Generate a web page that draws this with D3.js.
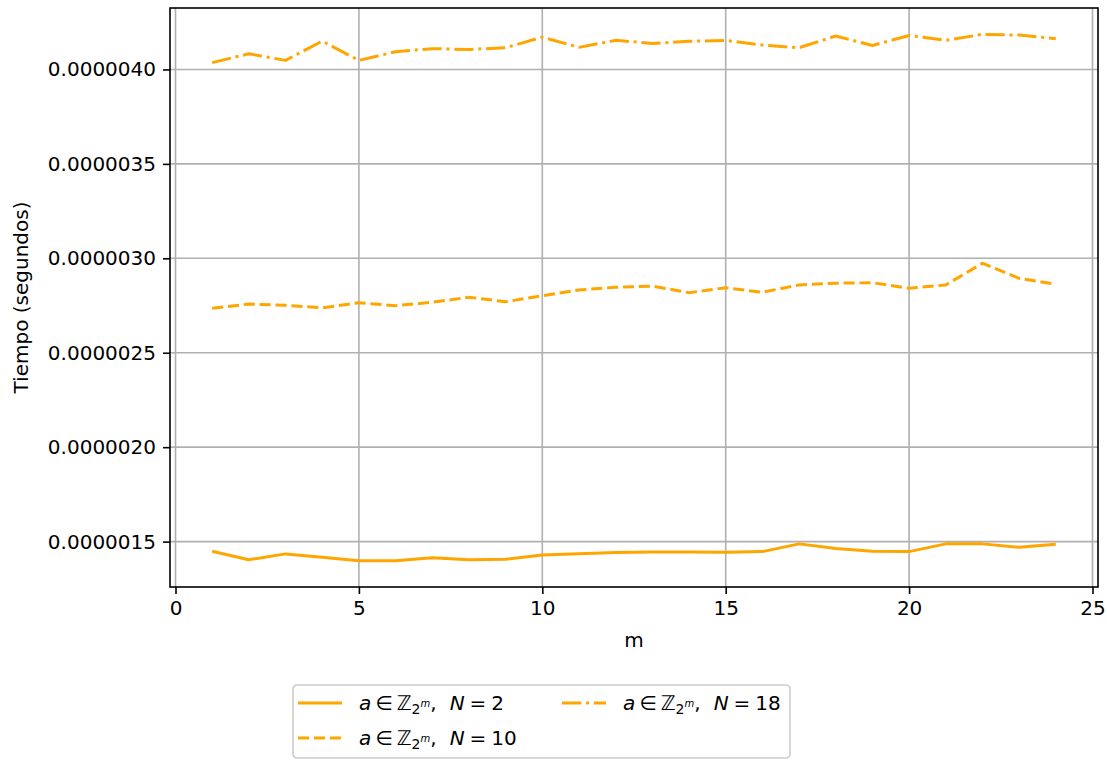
<!DOCTYPE html>
<html>
<head>
<meta charset="utf-8">
<script src="https://cdn.jsdelivr.net/npm/d3@7"></script>
<style>
  body { margin: 0; background: #fff; }
  svg { display: block; }
  text { font-family: "DejaVu Sans", sans-serif; fill: #000; }
</style>
</head>
<body>
<div id="chart"></div>
<script>
// Values (seconds).
var mValues = [1, 2, 3, 4, 5, 6, 7, 8, 9, 10, 11, 12, 13, 14, 15, 16, 17, 18, 19, 20, 21, 22, 23, 24];
var timesN2 = [1.449, 1.404, 1.435, 1.417, 1.399, 1.399, 1.415, 1.404, 1.406, 1.429, 1.436, 1.442,
               1.445, 1.445, 1.443, 1.447, 1.488, 1.463, 1.449, 1.447, 1.488, 1.488, 1.470, 1.486];
var timesN10 = [2.735, 2.758, 2.751, 2.738, 2.765, 2.749, 2.767, 2.794, 2.770, 2.802, 2.832, 2.847,
                2.853, 2.818, 2.844, 2.820, 2.859, 2.868, 2.871, 2.841, 2.859, 2.974, 2.894, 2.863];
var timesN18 = [4.036, 4.083, 4.048, 4.150, 4.048, 4.094, 4.110, 4.106, 4.115, 4.171, 4.117, 4.154,
                4.138, 4.149, 4.154, 4.129, 4.115, 4.177, 4.127, 4.180, 4.154, 4.186, 4.182, 4.163];
var nLabels = ["2", "10", "18"];
var xTicks = [0, 5, 10, 15, 20, 25];
var yTicks = [1.5e-6, 2.0e-6, 2.5e-6, 3.0e-6, 3.5e-6, 4.0e-6];

// Figure dimensions.
var W = 1107, H = 760;
var plot = {left: 170, top: 8, width: 928, height: 579};
var orange = "#ffa500";
var dashes = {solid: null, dashed: "11.1,4.8", dashdot: "19.2,4.8,3,4.8"};
var fontSize = 20;

var series = [
  {name: nLabels[0], values: timesN2, dash: dashes.solid},
  {name: nLabels[1], values: timesN10, dash: dashes.dashed},
  {name: nLabels[2], values: timesN18, dash: dashes.dashdot}
];

var svg = d3.select("#chart").append("svg")
    .attr("width", W)
    .attr("height", H);

// Domains padded like matplotlib's 5% margins.
var xMin = d3.min(mValues), xMax = d3.max(mValues);
var xPad = (xMax - xMin) * 0.05;
var allY = timesN2.concat(timesN10, timesN18).map(function(v) { return v * 1e-6; });
var yMin = d3.min(allY), yMax = d3.max(allY);
var yPad = (yMax - yMin) * 0.05;

var x = d3.scaleLinear()
    .domain([xMin - xPad, xMax + xPad])
    .range([plot.left, plot.left + plot.width]);
var y = d3.scaleLinear()
    .domain([yMin - yPad, yMax + yPad])
    .range([plot.top + plot.height, plot.top]);

// Grid lines.
var grid = svg.append("g").attr("class", "grid");
grid.selectAll("line.vx")
    .data(xTicks)
    .enter().append("line")
    .attr("x1", function(d) { return x(d); })
    .attr("x2", function(d) { return x(d); })
    .attr("y1", plot.top)
    .attr("y2", plot.top + plot.height)
    .attr("stroke", "#b0b0b0")
    .attr("stroke-width", 1.6);
grid.selectAll("line.hy")
    .data(yTicks)
    .enter().append("line")
    .attr("x1", plot.left)
    .attr("x2", plot.left + plot.width)
    .attr("y1", function(d) { return y(d); })
    .attr("y2", function(d) { return y(d); })
    .attr("stroke", "#b0b0b0")
    .attr("stroke-width", 1.6);

// Data lines.
var line = d3.line()
    .x(function(d, i) { return x(mValues[i]); })
    .y(function(d) { return y(d * 1e-6); });

svg.append("g").selectAll("path")
    .data(series)
    .enter().append("path")
    .attr("d", function(d) { return line(d.values); })
    .attr("fill", "none")
    .attr("stroke", orange)
    .attr("stroke-width", 3)
    .attr("stroke-linejoin", "round")
    .attr("stroke-dasharray", function(d) { return d.dash; });

// Axes.
var xAxis = d3.axisBottom(x)
    .tickValues(xTicks)
    .tickSize(7)
    .tickPadding(7)
    .tickFormat(d3.format("d"));
var yAxis = d3.axisLeft(y)
    .tickValues(yTicks)
    .tickSize(7)
    .tickPadding(7)
    .tickFormat(d3.format(".7f"));

var gx = svg.append("g")
    .attr("transform", "translate(0," + (plot.top + plot.height) + ")")
    .call(xAxis);
var gy = svg.append("g")
    .attr("transform", "translate(" + plot.left + ",0)")
    .call(yAxis);
[gx, gy].forEach(function(g) {
  g.select(".domain").remove();
  g.selectAll(".tick line").attr("stroke", "#000").attr("stroke-width", 1.6);
  g.selectAll(".tick text")
      .style("font-family", "DejaVu Sans")
      .style("font-size", fontSize + "px")
      .attr("fill", "#000");
});

// Frame (spines).
svg.append("rect")
    .attr("x", plot.left)
    .attr("y", plot.top)
    .attr("width", plot.width)
    .attr("height", plot.height)
    .attr("fill", "none")
    .attr("stroke", "#000")
    .attr("stroke-width", 1.6);

// Axis labels.
svg.append("text")
    .attr("x", plot.left + plot.width / 2)
    .attr("y", 647)
    .attr("text-anchor", "middle")
    .style("font-size", fontSize + "px")
    .text("m");
svg.append("text")
    .attr("transform", "translate(28," + (plot.top + plot.height / 2) + ") rotate(-90)")
    .attr("text-anchor", "middle")
    .style("font-size", fontSize + "px")
    .text("Tiempo (segundos)");

// Legend (two columns, column-major order like matplotlib).
var leg = {x: 293, y: 685, w: 497, h: 73, rowH: 35, colW: 264, handleX: 5, handleW: 44, textX: 66};
var legend = svg.append("g").attr("transform", "translate(" + leg.x + "," + leg.y + ")");
legend.append("rect")
    .attr("width", leg.w)
    .attr("height", leg.h)
    .attr("rx", 4)
    .attr("fill", "#fff")
    .attr("fill-opacity", 0.8)
    .attr("stroke", "#cccccc")
    .attr("stroke-width", 1.6);

var slots = [[0, 0], [0, 1], [1, 0]];
var items = legend.selectAll("g.item")
    .data(series)
    .enter().append("g")
    .attr("class", "item")
    .attr("transform", function(d, i) {
      return "translate(" + (slots[i][0] * leg.colW) + "," + (18 + slots[i][1] * leg.rowH) + ")";
    });
items.append("line")
    .attr("x1", leg.handleX)
    .attr("x2", leg.handleX + leg.handleW)
    .attr("y1", 0)
    .attr("y2", 0)
    .attr("stroke", orange)
    .attr("stroke-width", 3)
    .attr("stroke-dasharray", function(d) { return d.dash; });

var label = items.append("text")
    .attr("x", leg.textX)
    .attr("y", 7)
    .style("font-size", fontSize + "px");
label.append("tspan").style("font-style", "italic").text("a");
label.append("tspan").attr("dx", 4).text("\u2208");
label.append("tspan").attr("dx", 4).text("\u2124");
label.append("tspan").attr("dy", 4).style("font-size", "14px").text("2");
label.append("tspan").attr("dy", -7).style("font-size", "10px").style("font-style", "italic").text("m");
label.append("tspan").attr("dy", 3).text(",");
label.append("tspan").attr("dx", 13).style("font-style", "italic").text("N");
label.append("tspan").attr("dx", 5).text("=");
label.append("tspan").attr("dx", 5).text(function(d) { return d.name; });
</script>
</body>
</html>
